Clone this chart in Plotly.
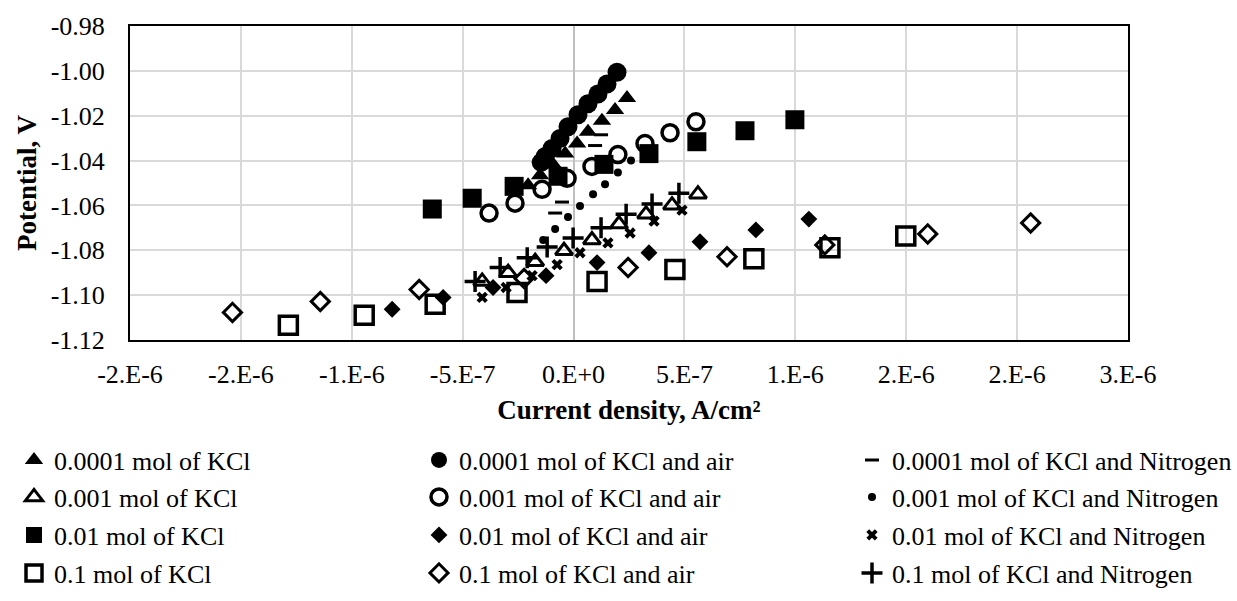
import plotly.graph_objects as go

# Polarisation data: current density (A/cm²) vs potential (V)
kcl_0001_x = [2.41e-7, 1.87e-7, 1.28e-7, 0.65e-7, 0.16e-7, -0.38e-7, -0.92e-7, -1.51e-7, -2.05e-7]
kcl_0001_y = [-1.0121, -1.0174, -1.0223, -1.0271, -1.0324, -1.0369, -1.0417, -1.0466, -1.0510]

air_0001_x = [1.96e-7, 1.51e-7, 1.10e-7, 0.65e-7, 0.20e-7, -0.25e-7, -0.61e-7, -0.97e-7, -1.28e-7, -1.46e-7]
air_0001_y = [-1.0006, -1.0059, -1.0103, -1.0147, -1.0196, -1.0249, -1.0302, -1.0346, -1.0382, -1.0408]

n2_0001_x = [-0.83e-7, -0.52e-7, 0.97e-7, 1.24e-7]
n2_0001_y = [-1.0634, -1.0585, -1.0333, -1.0285]

kcl_001_x = [-4.12e-7, -2.95e-7, -1.73e-7, -0.43e-7, 0.83e-7, 2.05e-7, 3.27e-7, 4.44e-7, 5.61e-7]
kcl_001_y = [-1.0939, -1.0900, -1.0851, -1.0802, -1.0754, -1.0683, -1.0639, -1.0599, -1.0550]

air_001_x = [-3.81e-7, -2.64e-7, -1.42e-7, -0.29e-7, 0.83e-7, 2.00e-7, 3.22e-7, 4.35e-7, 5.52e-7]
air_001_y = [-1.0634, -1.0590, -1.0528, -1.0479, -1.0426, -1.0373, -1.0324, -1.0276, -1.0227]

n2_001_x = [-1.37e-7, -0.83e-7, -0.25e-7, 0.29e-7, 0.88e-7, 1.42e-7, 2.00e-7, 2.59e-7]
n2_001_y = [-1.0754, -1.0705, -1.0652, -1.0603, -1.0550, -1.0506, -1.0453, -1.0400]

kcl_01_x = [-6.37e-7, -4.57e-7, -2.68e-7, -0.70e-7, 1.37e-7, 3.40e-7, 5.56e-7, 7.73e-7, 9.98e-7]
kcl_01_y = [-1.0616, -1.0568, -1.0515, -1.0470, -1.0417, -1.0369, -1.0316, -1.0267, -1.0218]

air_01_x = [-8.18e-7, -5.88e-7, -3.63e-7, -1.24e-7, 1.06e-7, 3.40e-7, 5.70e-7, 8.22e-7, 1.061e-6]
air_01_y = [-1.1063, -1.1010, -1.0966, -1.0913, -1.0855, -1.0811, -1.0762, -1.0709, -1.0661]

n2_01_x = [-4.12e-7, -3.04e-7, -1.87e-7, -0.74e-7, 0.29e-7, 1.55e-7, 2.55e-7, 3.63e-7, 4.89e-7]
n2_01_y = [-1.1010, -1.0966, -1.0913, -1.0864, -1.0811, -1.0767, -1.0723, -1.0670, -1.0621]

kcl_1_x = [-1.286e-6, -9.44e-7, -6.24e-7, -2.55e-7, 1.06e-7, 4.57e-7, 8.13e-7, 1.156e-6, 1.498e-6]
kcl_1_y = [-1.1134, -1.1090, -1.1041, -1.0988, -1.0939, -1.0886, -1.0838, -1.0789, -1.0736]

air_1_x = [-1.538e-6, -1.142e-6, -6.96e-7, -2.23e-7, 2.46e-7, 6.92e-7, 1.133e-6, 1.597e-6, 2.061e-6]
air_1_y = [-1.1077, -1.1028, -1.0975, -1.0926, -1.0877, -1.0829, -1.0776, -1.0727, -1.0678]

n2_1_x = [-4.44e-7, -3.31e-7, -2.09e-7, -1.19e-7, -0.02e-7, 1.24e-7, 2.37e-7, 3.54e-7, 4.75e-7]
n2_1_y = [-1.0939, -1.0877, -1.0833, -1.0785, -1.0745, -1.0700, -1.0639, -1.0594, -1.0546]

x_tickvals = [-2.0e-6, -1.5e-6, -1.0e-6, -5.0e-7, 0.0, 5.0e-7, 1.0e-6, 1.5e-6, 2.0e-6, 2.5e-6]
x_ticktext = ["-2.E-6", "-2.E-6", "-1.E-6", "-5.E-7", "0.E+0", "5.E-7", "1.E-6", "2.E-6", "2.E-6", "3.E-6"]
y_tickvals = [-0.98, -1.00, -1.02, -1.04, -1.06, -1.08, -1.10, -1.12]
y_ticktext = ["-0.98", "-1.00", "-1.02", "-1.04", "-1.06", "-1.08", "-1.10", "-1.12"]

FONT = "Liberation Serif, Times New Roman, serif"
W, H = 1237, 601

series = [
    ("0.0001 mol of KCl", kcl_0001_x, kcl_0001_y, dict(symbol="triangle-up", size=16, color="black")),
    ("0.0001 mol of KCl and air", air_0001_x, air_0001_y, dict(symbol="circle", size=19, color="black")),
    ("0.0001 mol of KCl and Nitrogen", n2_0001_x, n2_0001_y,
     dict(symbol="line-ew", size=10, color="black", line=dict(color="black", width=3))),
    ("0.001 mol of KCl", kcl_001_x, kcl_001_y,
     dict(symbol="triangle-up-open", size=15, color="black", line=dict(color="black", width=3))),
    ("0.001 mol of KCl and air", air_001_x, air_001_y,
     dict(symbol="circle-open", size=16, color="black", line=dict(color="black", width=3.5))),
    ("0.001 mol of KCl and Nitrogen", n2_001_x, n2_001_y, dict(symbol="circle", size=8, color="black")),
    ("0.01 mol of KCl", kcl_01_x, kcl_01_y, dict(symbol="square", size=19, color="black")),
    ("0.01 mol of KCl and air", air_01_x, air_01_y, dict(symbol="diamond", size=13, color="black")),
    ("0.01 mol of KCl and Nitrogen", n2_01_x, n2_01_y, dict(symbol="x", size=10, color="black")),
    ("0.1 mol of KCl", kcl_1_x, kcl_1_y,
     dict(symbol="square-open", size=18, color="black", line=dict(color="black", width=3.5))),
    ("0.1 mol of KCl and air", air_1_x, air_1_y,
     dict(symbol="diamond-open", size=14, color="black", line=dict(color="black", width=3))),
    ("0.1 mol of KCl and Nitrogen", n2_1_x, n2_1_y,
     dict(symbol="cross-thin-open", size=15, color="black", line=dict(color="black", width=3.5))),
]

# legend grid (3 columns x 4 rows) in container pixels
legend_left = [14, 419, 852]
legend_row_y = [460, 497, 535, 573]

fig = go.Figure()
layout_legends = {}
for i, (name, xs, ys, marker) in enumerate(series):
    key = "legend" if i == 0 else f"legend{i + 1}"
    fig.add_trace(go.Scatter(x=xs, y=ys, mode="markers", name=name, marker=marker,
                             legend=key, showlegend=True))
    row, col = divmod(i, 3)
    layout_legends[key] = dict(
        xref="container", yref="container",
        x=legend_left[col] / W, y=1 - legend_row_y[row] / H,
        xanchor="left", yanchor="middle",
        orientation="h", itemwidth=30, bgcolor="rgba(0,0,0,0)",
        font=dict(family=FONT, size=26, color="black"),
    )

axis_common = dict(
    showline=True, mirror=True, linecolor="black", linewidth=2,
    showgrid=True, gridcolor="#d9d9d9", gridwidth=2,
    ticks="", tickfont=dict(family=FONT, size=26, color="black"),
)

fig.update_layout(
    width=W, height=H,
    margin=dict(l=130, r=109, t=24, b=261),
    paper_bgcolor="white", plot_bgcolor="white",
    font=dict(family=FONT, color="black"),
    xaxis=dict(range=[-2.0e-6, 2.5e-6], tickmode="array", tickvals=x_tickvals, ticktext=x_ticktext,
               zeroline=True, zerolinecolor="#bfbfbf", zerolinewidth=2, ticklabelstandoff=10,
               title=dict(text="<b>Current density, A/cm²</b>", font=dict(family=FONT, size=27),
                          standoff=12),
               **axis_common),
    yaxis=dict(range=[-1.12, -0.98], tickmode="array", tickvals=y_tickvals, ticktext=y_ticktext,
               zeroline=False, ticklabelstandoff=18,
               title=dict(text="<b>Potential, V</b>", font=dict(family=FONT, size=27), standoff=6),
               **axis_common),
    **layout_legends,
)

fig.write_html("out.html")
